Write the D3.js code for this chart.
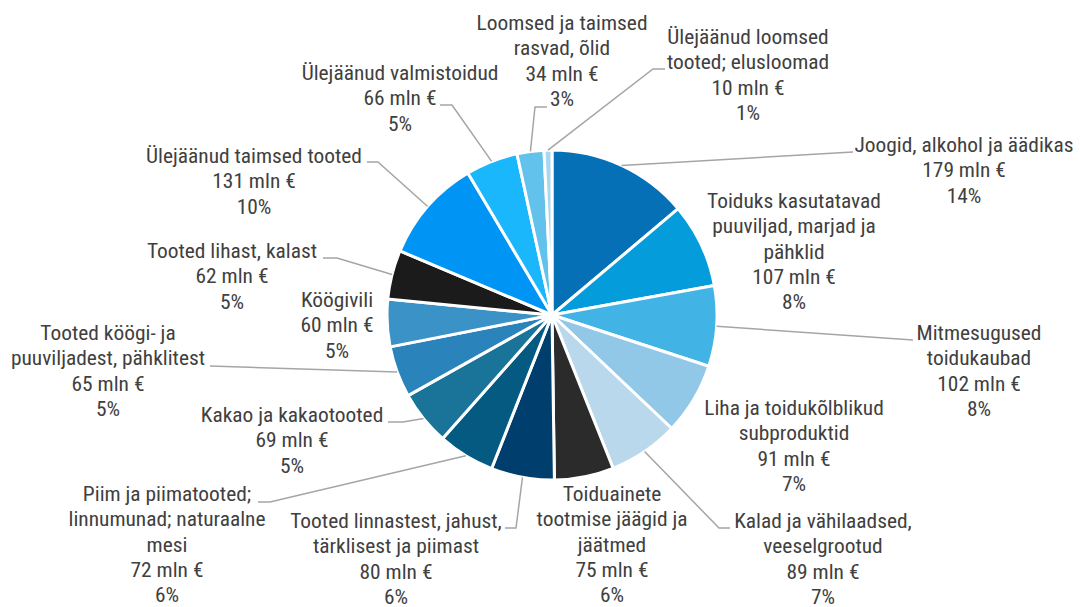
<!doctype html>
<html>
  <head>
    <meta charset="utf-8"/>
    <title>Toidukaubad</title>
    <style>
      body, html {
        margin: 0;
        padding: 0;
        background: white;
      }
      .label text {
        font-family: "Roboto Condensed", "Roboto", sans-serif;
        font-size: 20px;
        fill: #404040;
      }
      .leader {
        fill: none;
        stroke: #a5a5a5;
        stroke-width: 1.5;
      }
    </style>
    <script src="https://d3js.org/d3.v7.min.js"></script>
  </head>
  <body>
    <svg width="1080" height="607"></svg>
    <script>
      // data, clockwise from 12 o'clock
      var names = [
        "Joogid, alkohol ja äädikas",
        "Toiduks kasutatavad puuviljad, marjad ja pähklid",
        "Mitmesugused toidukaubad",
        "Liha ja toidukõlblikud subproduktid",
        "Kalad ja vähilaadsed, veeselgrootud",
        "Toiduainete tootmise jäägid ja jäätmed",
        "Tooted linnastest, jahust, tärklisest ja piimast",
        "Piim ja piimatooted; linnumunad; naturaalne mesi",
        "Kakao ja kakaotooted",
        "Tooted köögi- ja puuviljadest, pähklitest",
        "Köögivili",
        "Tooted lihast, kalast",
        "Ülejäänud taimsed tooted",
        "Ülejäänud valmistoidud",
        "Loomsed ja taimsed rasvad, õlid",
        "Ülejäänud loomsed tooted; elusloomad"
      ];
      var values = [179, 107, 102, 91, 89, 75, 80, 72, 69, 65, 60, 62, 131, 66, 34, 10];
      var percents = [14, 8, 8, 7, 7, 6, 6, 6, 5, 5, 5, 5, 10, 5, 3, 1];

      // how each name is broken into lines in the picture
      var nameLines = [
        ["Joogid, alkohol ja äädikas"],
        ["Toiduks kasutatavad", "puuviljad, marjad ja", "pähklid"],
        ["Mitmesugused", "toidukaubad"],
        ["Liha ja toidukõlblikud", "subproduktid"],
        ["Kalad ja vähilaadsed,", "veeselgrootud"],
        ["Toiduainete", "tootmise jäägid ja", "jäätmed"],
        ["Tooted linnastest, jahust,", "tärklisest ja piimast"],
        ["Piim ja piimatooted;", "linnumunad; naturaalne", "mesi"],
        ["Kakao ja kakaotooted"],
        ["Tooted köögi- ja", "puuviljadest, pähklitest"],
        ["Köögivili"],
        ["Tooted lihast, kalast"],
        ["Ülejäänud taimsed tooted"],
        ["Ülejäänud valmistoidud"],
        ["Loomsed ja taimsed", "rasvad, õlid"],
        ["Ülejäänud loomsed", "tooted; elusloomad"]
      ];

      var colors = ["#0570b5", "#049cdb", "#41b3e5", "#92c8e7", "#b9d8eb", "#2b2b2b",
                    "#003f6d", "#045a80", "#1a7399", "#2b83bb", "#3a92c7", "#1b1b1b",
                    "#0095f5", "#1bb7fc", "#62c2eb", "#a9d7ef"];

      // label layout: text centre x, first line y, leader bend and end points
      var labelPos = [
        {x: 964, y: 145, bend: [853, 152]},
        {x: 794, y: 201},
        {x: 979, y: 333, bend: [913, 340]},
        {x: 794, y: 408},
        {x: 823, y: 521, bend: [719, 528], end: [730, 528]},
        {x: 612, y: 494},
        {x: 396, y: 521, bend: [516, 528], end: [505, 528]},
        {x: 167, y: 494, bend: [270, 502], end: [258, 502]},
        {x: 292, y: 415, bend: [403, 422], end: [388, 422]},
        {x: 108, y: 333, bend: [210, 366]},
        {x: 337, y: 300},
        {x: 232, y: 251, bend: [337, 258], end: [323, 258]},
        {x: 254, y: 156, bend: [378, 162], end: [367, 162]},
        {x: 400, y: 73, bend: [452, 105], end: [440, 105]},
        {x: 562, y: 23, bend: [535, 107], end: [547, 107]},
        {x: 748, y: 37, bend: [653, 69], end: [665, 69]}
      ];

      var svg = d3.select("svg");
      var cx = 552, cy = 315, radius = 165, lineH = 25.3;

      var pie = d3.pie().sort(null).value(function(d) { return d; });
      var arcs = pie(values);

      var arc = d3.arc().innerRadius(0).outerRadius(radius);
      var edge = d3.arc().innerRadius(radius).outerRadius(radius);

      var g = svg.append("g")
        .attr("transform", "translate(" + cx + "," + cy + ")");

      g.selectAll(".slice")
        .data(arcs)
        .enter().append("path")
          .attr("class", "slice")
          .attr("d", arc)
          .attr("fill", function(d, i) { return colors[i]; })
          .attr("stroke", "white")
          .attr("stroke-width", 3)
          .attr("stroke-linejoin", "round");

      // leader lines
      arcs.forEach(function(d, i) {
        var p = labelPos[i];
        if (!p.bend) return;
        var c = edge.centroid(d);
        var pts = [[cx + c[0], cy + c[1]], p.bend];
        if (p.end) pts.push(p.end);
        svg.append("path")
          .attr("class", "leader")
          .attr("d", d3.line()(pts));
      });

      // labels
      var labels = svg.selectAll(".label")
        .data(arcs)
        .enter().append("g")
          .attr("class", "label")
          .attr("transform", function(d, i) {
            return "translate(" + labelPos[i].x + "," + labelPos[i].y + ") scale(1.07,1)";
          });

      labels.each(function(d, i) {
        var lines = nameLines[i].concat([values[i] + " mln €", percents[i] + "%"]);
        var t = d3.select(this).append("text")
          .attr("text-anchor", "middle");
        lines.forEach(function(s, k) {
          t.append("tspan")
            .attr("x", 0)
            .attr("y", k * lineH)
            .attr("dy", "0.35em")
            .text(s);
        });
      });
    </script>
  </body>
</html>
